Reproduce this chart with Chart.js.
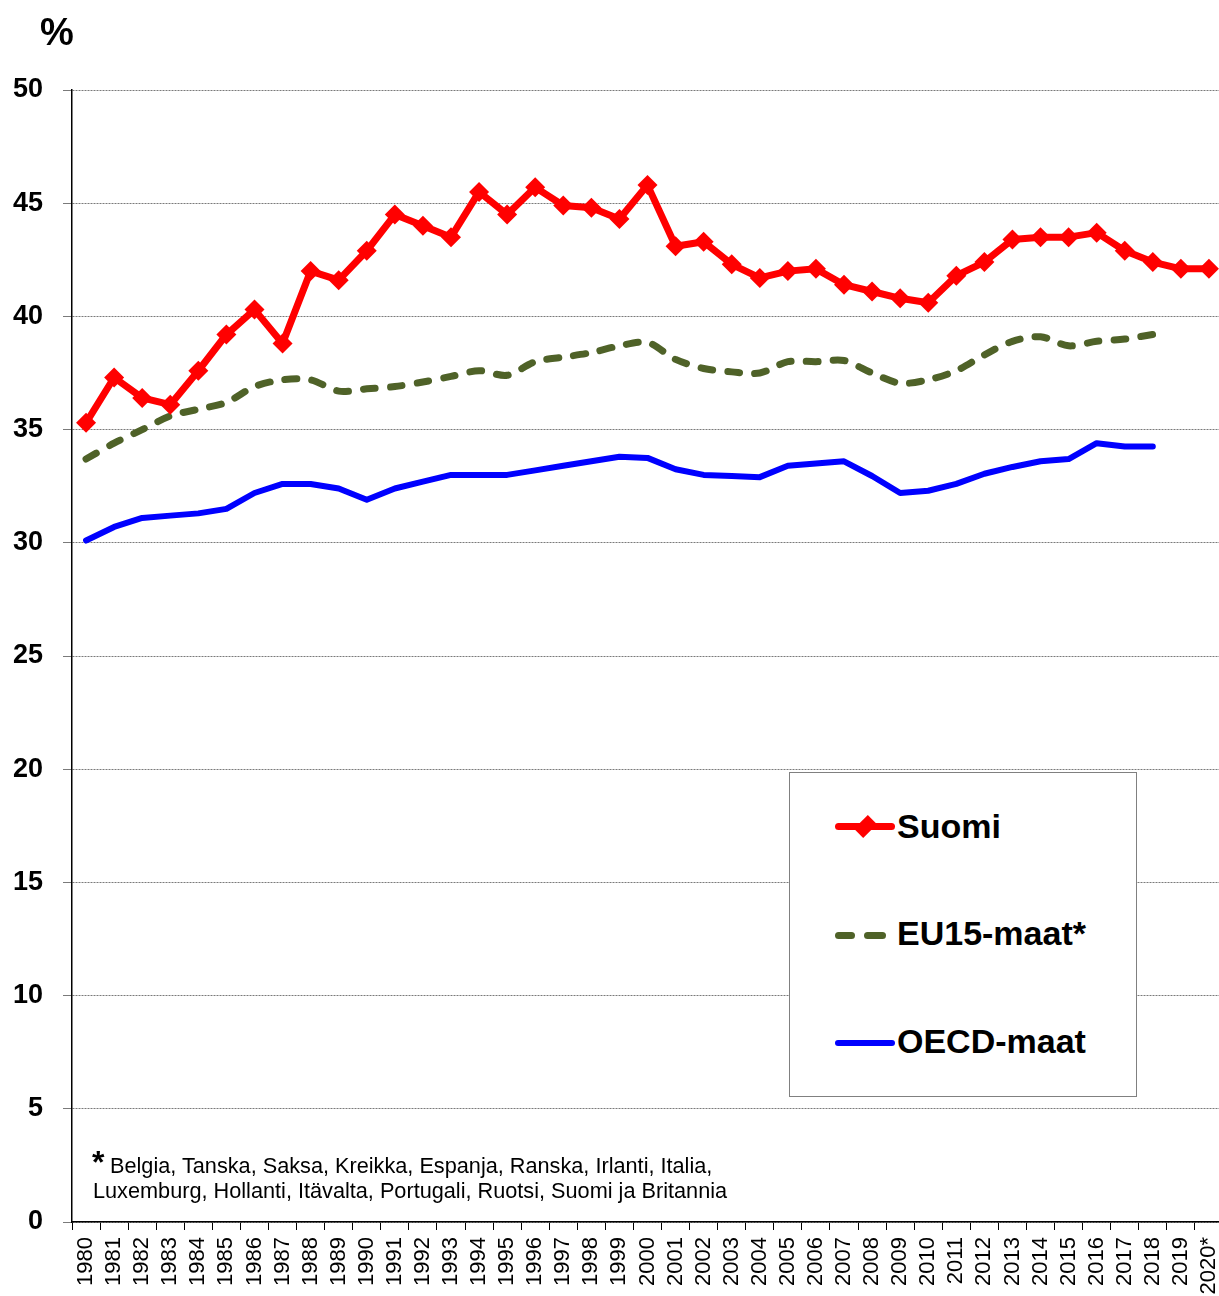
<!DOCTYPE html>
<html>
<head>
<meta charset="utf-8">
<script src="https://cdn.jsdelivr.net/npm/chart.js@4/dist/chart.umd.min.js"></script>
<style>
  html, body { margin: 0; padding: 0; background: #fff; overflow: hidden; }
  #wrap { position: relative; width: 1219px; height: 1296px; overflow: hidden; font-family: Arial, "Liberation Sans", sans-serif; color: #000; }
  #c { position: absolute; left: 0; top: 0; }
  .txt { position: absolute; white-space: nowrap; line-height: 1; }
  #legend { position: absolute; left: 789px; top: 772px; width: 346px; height: 323px; border: 1.5px solid #808080; background: #fff; }
  .lg { position: absolute; font-weight: bold; font-size: 34px; line-height: 1; white-space: nowrap; }
  .sample { position: absolute; }
</style>
</head>
<body>
<div id="wrap">
  <canvas id="c" width="1233" height="1296"></canvas>
  <div class="txt" style="left:40px; top:12.8px; font-size:38px; font-weight:bold;">%</div>

  <div id="legend"></div>
  <div class="sample" style="left:835px; top:823px; width:60px; height:7px; background:#ff0000; border-radius:3.5px;"></div>
  <div class="sample" style="left:859px; top:820px; width:13px; height:13px; background:#ff0000; transform:rotate(45deg) scaleY(1.5);"></div>
  <div class="lg" style="left:897px; top:809.2px;">Suomi</div>

  <div class="sample" style="left:835px; top:931.5px; width:20px; height:7px; background:#4f6228; border-radius:3.5px;"></div>
  <div class="sample" style="left:864px; top:931.5px; width:22px; height:7px; background:#4f6228; border-radius:3.5px;"></div>
  <div class="lg" style="left:897px; top:916.2px;">EU15-maat*</div>

  <div class="sample" style="left:835px; top:1040px; width:60px; height:6px; background:#0000ff; border-radius:3px;"></div>
  <div class="lg" style="left:897px; top:1024.2px;">OECD-maat</div>

  <div class="txt" style="left:92px; top:1146px; font-size:32px; font-weight:bold;">*</div>
  <div class="txt" style="left:110px; top:1155px; font-size:21.7px;">Belgia, Tanska, Saksa, Kreikka, Espanja, Ranska, Irlanti, Italia,</div>
  <div class="txt" style="left:93px; top:1180px; font-size:21.7px;">Luxemburg, Hollanti, Itävalta, Portugali, Ruotsi, Suomi ja Britannia</div>
</div>
<script>
const years = ['1980','1981','1982','1983','1984','1985','1986','1987','1988','1989',
               '1990','1991','1992','1993','1994','1995','1996','1997','1998','1999',
               '2000','2001','2002','2003','2004','2005','2006','2007','2008','2009',
               '2010','2011','2012','2013','2014','2015','2016','2017','2018','2019','2020*'];

const suomi = [35.3,37.3,36.4,36.1,37.6,39.2,40.3,38.8,42.0,41.6,
               42.9,44.5,44.0,43.5,45.5,44.5,45.7,44.9,44.8,44.3,
               45.8,43.1,43.3,42.3,41.7,42.0,42.1,41.4,41.1,40.8,
               40.6,41.8,42.4,43.4,43.5,43.5,43.7,42.9,42.4,42.1,42.1];

const eu15 = [33.7,34.4,35.0,35.6,35.9,36.2,36.9,37.2,37.2,36.7,
              36.8,36.9,37.1,37.35,37.6,37.4,38.0,38.2,38.4,38.7,
              38.85,38.1,37.7,37.55,37.5,38.0,38.0,38.05,37.5,37.05,
              37.2,37.6,38.3,38.9,39.1,38.7,38.9,39.0,39.2,null,null];

const oecd = [30.1,30.7,31.1,31.2,31.3,31.5,32.2,32.6,32.6,32.4,
              31.9,32.4,32.7,33.0,33.0,33.0,33.2,33.4,33.6,33.8,
              33.75,33.25,33.0,32.95,32.9,33.4,33.5,33.6,32.95,32.2,
              32.3,32.6,33.05,33.35,33.6,33.7,34.4,34.25,34.25,null,null];

const seriesNames = ['Suomi', 'EU15-maat*', 'OECD-maat'];

new Chart(document.getElementById('c'), {
  type: 'line',
  data: {
    labels: years,
    datasets: [
      {
        label: seriesNames[0], data: suomi,
        borderColor: '#ff0000', backgroundColor: '#ff0000', borderWidth: 7,
        pointStyle: 'rectRot', pointRadius: 10, pointBorderWidth: 0,
        pointBackgroundColor: '#ff0000', tension: 0, borderJoinStyle: 'round'
      },
      {
        label: seriesNames[1], data: eu15,
        borderColor: '#4f6228', borderWidth: 7, borderDash: [12, 15],
        borderCapStyle: 'round', pointRadius: 0, tension: 0.3, spanGaps: false
      },
      {
        label: seriesNames[2], data: oecd,
        borderColor: '#0000ff', borderWidth: 6, borderCapStyle: 'round', borderJoinStyle: 'round',
        pointRadius: 0, tension: 0, spanGaps: false
      }
    ]
  },
  options: {
    responsive: false,
    animation: false,
    devicePixelRatio: 1,
    layout: { padding: { top: 90, right: 0, bottom: 0, left: 0 } },
    plugins: { legend: { display: false }, tooltip: { enabled: false }, title: { display: false } },
    scales: {
      x: {
        type: 'category',
        offset: true,
        grid: { display: true, offset: true, drawOnChartArea: false, drawTicks: true, tickLength: 8, color: '#000', lineWidth: 1 },
        border: { display: true, color: '#000', width: 1.5 },
        ticks: { autoSkip: false, minRotation: 90, maxRotation: 90, padding: 7, color: '#000',
                 font: { family: 'Arial, "Liberation Sans", sans-serif', size: 22 } },
        afterFit: (s) => { s.height = 74; s.paddingLeft = 0; s.paddingRight = 0; }
      },
      y: {
        min: 0, max: 50,
        grid: { color: '#7a7a7a', lineWidth: 1, tickLength: 9, drawTicks: true },
        border: { display: true, color: '#000', width: 1.5, dash: [2, 1] },
        ticks: { stepSize: 5, padding: 20, color: '#000',
                 font: { family: 'Arial, "Liberation Sans", sans-serif', size: 27, weight: 'bold' } },
        afterFit: (s) => { s.width = 72; s.paddingTop = 0; s.paddingBottom = 0; }
      }
    }
  }
});
</script>
</body>
</html>
